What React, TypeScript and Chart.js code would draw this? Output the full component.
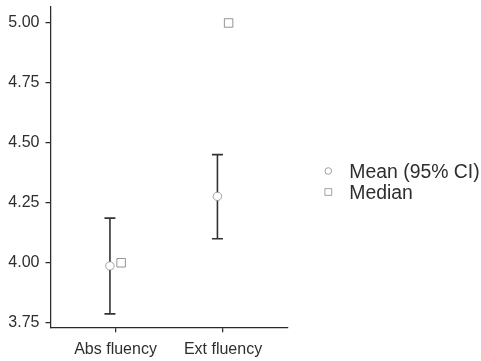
import React, { useEffect, useRef } from "react";
import { Chart, registerables } from "chart.js";

Chart.register(...registerables);

const categories = ["Abs fluency", "Ext fluency"];
const meanValues = [3.987, 4.277];
const ciLow = [3.787, 4.100];
const ciHigh = [4.186, 4.451];
const medianValues = [4.0, 5.0];
const yTicks = [3.75, 4.0, 4.25, 4.5, 4.75, 5.0];
const legendLabels = ["Mean (95% CI)", "Median"];

const FONT = "'Liberation Sans', Arial, sans-serif";
const TEXT = "#2e2e2e";
const AXIS = "#2b2b2b";
const DODGE = 0.052;

const errorBarPlugin = {
  id: "errorBars",
  beforeDatasetsDraw(chart: any) {
    const { ctx, scales } = chart;
    const xs = scales.x;
    const ys = scales.y;
    ctx.save();
    ctx.strokeStyle = "#333";
    ctx.lineWidth = 1.6;
    categories.forEach((_, i) => {
      const x = xs.getPixelForValue(i - DODGE);
      const y1 = ys.getPixelForValue(ciLow[i]);
      const y2 = ys.getPixelForValue(ciHigh[i]);
      const cap = 5.5;
      ctx.beginPath();
      ctx.moveTo(x, y1);
      ctx.lineTo(x, y2);
      ctx.moveTo(x - cap, y1);
      ctx.lineTo(x + cap, y1);
      ctx.moveTo(x - cap, y2);
      ctx.lineTo(x + cap, y2);
      ctx.stroke();
    });
    ctx.restore();
  },
};

const legendPlugin = {
  id: "sideLegend",
  afterDraw(chart: any) {
    const { ctx, chartArea } = chart;
    const mx = chartArea.right + 41;
    const tx = chartArea.right + 62;
    const rows = [171, 192];
    ctx.save();
    ctx.font = `19.4px ${FONT}`;
    ctx.textBaseline = "middle";
    ctx.textAlign = "left";
    legendLabels.forEach((label, i) => {
      const y = rows[i];
      ctx.fillStyle = "#fff";
      ctx.strokeStyle = "#8a8a8a";
      ctx.lineWidth = 0.8;
      ctx.beginPath();
      if (i === 0) {
        ctx.arc(mx, y, 3.3, 0, Math.PI * 2);
      } else {
        ctx.rect(mx - 3.4, y - 3.4, 6.8, 6.8);
      }
      ctx.fill();
      ctx.stroke();
      ctx.fillStyle = TEXT;
      ctx.fillText(label, tx, y + 1.5);
    });
    ctx.restore();
  },
};

export default function App() {
  const ref = useRef<HTMLCanvasElement | null>(null);

  useEffect(() => {
    if (!ref.current) return;
    const chart = new Chart(ref.current, {
      type: "scatter",
      data: {
        datasets: [
          {
            label: legendLabels[0],
            data: meanValues.map((v, i) => ({ x: i - DODGE, y: v })),
            pointStyle: "circle",
            radius: 4.2,
            backgroundColor: "#ffffff",
            borderColor: "#8a8a8a",
            borderWidth: 0.8,
            clip: false as any,
          },
          {
            label: legendLabels[1],
            data: medianValues.map((v, i) => ({ x: i + DODGE, y: v })),
            pointStyle: "rect",
            radius: 6,
            backgroundColor: "#ffffff",
            borderColor: "#7a7a7a",
            borderWidth: 0.8,
            clip: false as any,
          },
        ],
      },
      options: {
        responsive: false,
        animation: false,
        layout: { padding: { top: 6, right: 193.7, left: 0, bottom: 0 } },
        plugins: {
          legend: { display: false },
          tooltip: { enabled: false },
        },
        scales: {
          x: {
            type: "linear",
            min: -0.605,
            max: 1.598,
            afterBuildTicks: (scale: any) => {
              scale.ticks = categories.map((_, i) => ({ value: i }));
            },
            afterFit: (scale: any) => {
              scale.height = 33.3;
              scale.paddingLeft = 0;
              scale.paddingRight = 0;
            },
            ticks: {
              autoSkip: false,
              maxRotation: 0,
              padding: 7.5,
              color: TEXT,
              font: { family: FONT, size: 16 },
              callback: (v: any) => categories[Math.round(Number(v))] ?? "",
            },
            grid: {
              drawOnChartArea: false,
              drawTicks: true,
              tickLength: 4.5,
              color: AXIS,
              lineWidth: 1.25,
            },
            border: { display: true, color: AXIS, width: 1.25 },
          },
          y: {
            type: "linear",
            min: 3.7292,
            max: 5.0674,
            afterBuildTicks: (scale: any) => {
              scale.ticks = yTicks.map((v) => ({ value: v }));
            },
            afterFit: (scale: any) => {
              scale.width = 50.5;
              scale.paddingTop = 0;
              scale.paddingBottom = 0;
            },
            ticks: {
              autoSkip: false,
              padding: 6,
              color: TEXT,
              font: { family: FONT, size: 16 },
              callback: (v: any) => Number(v).toFixed(2),
            },
            grid: {
              drawOnChartArea: false,
              drawTicks: true,
              tickLength: 5,
              color: AXIS,
              lineWidth: 1.25,
            },
            border: { display: true, color: AXIS, width: 1.25 },
          },
        },
      },
      plugins: [errorBarPlugin, legendPlugin],
    });
    return () => chart.destroy();
  }, []);

  return (
    <div style={{ position: "fixed", left: 0, top: 0, width: 481, height: 361, background: "#fff" }}>
      <canvas ref={ref} width={481} height={361} style={{ display: "block" }} />
    </div>
  );
}
